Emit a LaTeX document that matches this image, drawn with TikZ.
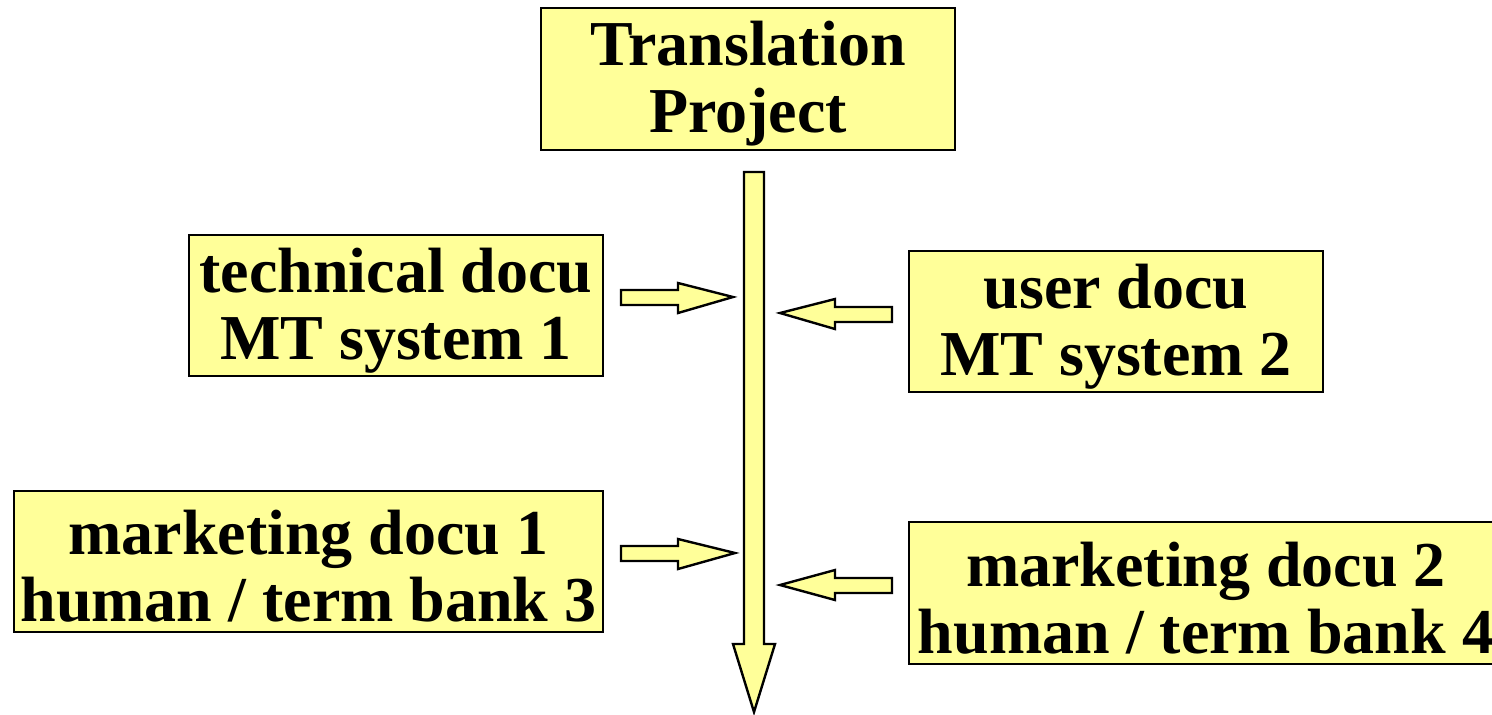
\documentclass[tikz,border=0pt]{standalone}
\usepackage{fontspec}
\setmainfont{Liberation Serif}
\definecolor{boxyellow}{RGB}{255,255,153}
\newcommand{\boxstrut}{\rule{0pt}{27pt}}
\begin{document}
\begin{tikzpicture}[x=0.5pt,y=-0.5pt,
  box/.style={draw=black, line width=1.2pt, fill=boxyellow, align=center,
    inner sep=0pt, font=\fontsize{32}{33.5}\selectfont\bfseries},
  blockarrow/.style={draw=black, line width=1.2pt, fill=boxyellow, line join=miter}]
\useasboundingbox (0,0) rectangle (1492,714);
\clip (0,0) rectangle (1492,714);
% boxes
\node[box, minimum width=207pt, minimum height=71pt] (tp) at (748,79) {\boxstrut Translation\\Project};
\node[box, minimum width=207pt, minimum height=70.5pt] (tech) at (396,305.5) {\boxstrut technical docu\\MT system 1};
\node[box, minimum width=207pt, minimum height=70.5pt] (user) at (1116,321.5) {\boxstrut user docu\\MT system 2};
\node[box, minimum width=294.5pt, minimum height=70.5pt] (mk1) at (308.5,561.5) {\boxstrut marketing docu 1\\human / term bank 3};
\node[box, minimum width=297pt, minimum height=71pt] (mk2) at (1206,593) {\boxstrut marketing docu 2\\human / term bank 4};
% main vertical arrow
\draw[blockarrow] (744,172) -- (764,172) -- (764,644) -- (775,644) -- (754,712)
  -- (733,644) -- (744,644) -- cycle;
% right-pointing arrows
\draw[blockarrow] (621,290) -- (678,290) -- (678,283) -- (733,297) -- (678,313)
  -- (678,305) -- (621,305) -- cycle;
\draw[blockarrow] (621,546) -- (678,546) -- (678,539) -- (735,553) -- (678,569)
  -- (678,561) -- (621,561) -- cycle;
% left-pointing arrows
\draw[blockarrow] (892,307) -- (835,307) -- (835,299) -- (780,313) -- (835,329)
  -- (835,322) -- (892,322) -- cycle;
\draw[blockarrow] (892,578) -- (835,578) -- (835,570) -- (780,585) -- (835,600)
  -- (835,593) -- (892,593) -- cycle;
\end{tikzpicture}
\end{document}
